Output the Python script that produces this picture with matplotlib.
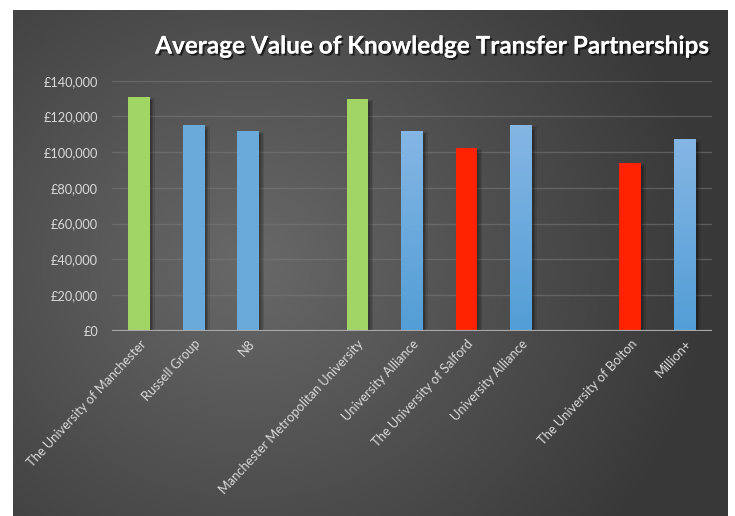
import numpy as np
import matplotlib
matplotlib.use("Agg")
import matplotlib.pyplot as plt
from matplotlib import patheffects as pe
from matplotlib.patches import Rectangle

# ---- data ----
categories = ["The University of Manchester", "Russell Group", "N8", "",
              "Manchester Metropolitan University", "University Alliance",
              "The University of Salford", "University Alliance", "",
              "The University of Bolton", "Million+"]
values = [131000, 115000, 112000, np.nan, 130000, 112000, 102500, 115000,
          np.nan, 94000, 107000]
kinds = ["green", "blue", "blue", "", "green", "bluegrad", "red", "bluegrad",
         "", "red", "bluegrad"]
yticks = [0, 20000, 40000, 60000, 80000, 100000, 120000, 140000]
ytick_labels = ["£0", "£20,000", "£40,000", "£60,000", "£80,000", "£100,000",
                "£120,000", "£140,000"]
title = "Average Value of Knowledge Transfer Partnerships"

plt.rcParams['font.family'] = ['Lato', 'DejaVu Sans']

W, H = 735, 516
fig = plt.figure(figsize=(W / 100, H / 100), dpi=100, facecolor='white')

# ---- background panel with radial gradient ----
px0, px1, py0, py1 = 13, 728, 10, 516
bg = fig.add_axes([px0 / W, 0, (px1 - px0) / W, (py1 - py0) / H])
bg.set_axis_off()
nx, ny = 400, 300
xx, yy = np.meshgrid(np.linspace(0, 1, nx), np.linspace(0, 1, ny))
cx, cy = 0.33, 0.50
r = np.sqrt(((xx - cx) * 1.3) ** 2 + ((yy - cy) * 1.0) ** 2)
r = np.clip(r / 0.85, 0, 1)
light = np.array([0.41, 0.41, 0.41])
dark = np.array([0.22, 0.22, 0.22])
img = light[None, None, :] * (1 - r[..., None]) + dark[None, None, :] * r[..., None]
bg.imshow(img, aspect='auto', extent=(0, 1, 0, 1), origin='upper')
bg.set_xlim(0, 1)
bg.set_ylim(0, 1)

# ---- main axes ----
left, right = 112, 712
top, bottom = 80.7, 330.7
ax = fig.add_axes([left / W, 1 - bottom / H, (right - left) / W, (bottom - top) / H])
ax.set_facecolor('none')
n = len(categories)
x = np.arange(n)
ax.set_xlim(-0.5, n - 0.5)
ax.set_ylim(0, 140000)
for s in ax.spines.values():
    s.set_visible(False)
ax.set_yticks(yticks)
ax.set_yticklabels(ytick_labels)
for t in yticks[1:]:
    ax.axhline(t, color='#7a7a7a', lw=1.0, alpha=0.55, zorder=1)
ax.axhline(0, color='#a8a8a8', lw=1.6, zorder=5)
ax.tick_params(axis='y', length=0, pad=10, labelsize=9.2, colors='#d9d9d9')
ax.tick_params(axis='x', length=0, pad=5, labelsize=9.3, colors='#d9d9d9')
ax.set_xticks(x)
ax.set_xticklabels(categories, rotation=47, ha='right', rotation_mode='anchor')

bw = 0.40
colors = {"green": "#a2d664", "blue": "#6aaadb", "red": "#ff2200"}
for xi, v, k in zip(x, values, kinds):
    if not k or np.isnan(v):
        continue
    # soft shadow
    for i, (dx, a) in enumerate([(0.09, 0.10), (0.06, 0.14), (0.035, 0.18)]):
        ax.add_patch(Rectangle((xi - bw / 2 + dx, 0), bw, v - 600 * (i + 1),
                               facecolor='black', alpha=a, lw=0, zorder=2))
    if k == "bluegrad":
        grad = np.linspace(0, 1, 100)[:, None]
        topc = np.array([0x85, 0xb6, 0xe4]) / 255
        botc = np.array([0x52, 0x9e, 0xd6]) / 255
        gimg = topc[None, None, :] * (1 - grad[..., None]) + botc[None, None, :] * grad[..., None]
        ax.imshow(np.repeat(gimg, 2, axis=1), extent=(xi - bw / 2, xi + bw / 2, 0, v),
                  aspect='auto', origin='upper', zorder=3)
    else:
        ax.bar(xi, v, width=bw, color=colors[k], zorder=3, lw=0)
ax.set_xlim(-0.5, n - 0.5)
ax.set_ylim(0, 140000)

fig.text(0.588, 1 - 46 / H, title, ha='center', va='center', color='white',
         fontsize=17.5, fontweight='bold',
         path_effects=[pe.withSimplePatchShadow(offset=(1.5, -1.5), shadow_rgbFace='black', alpha=0.6),
                       pe.Normal()])

fig.savefig('out.png', dpi=100, facecolor='white')
